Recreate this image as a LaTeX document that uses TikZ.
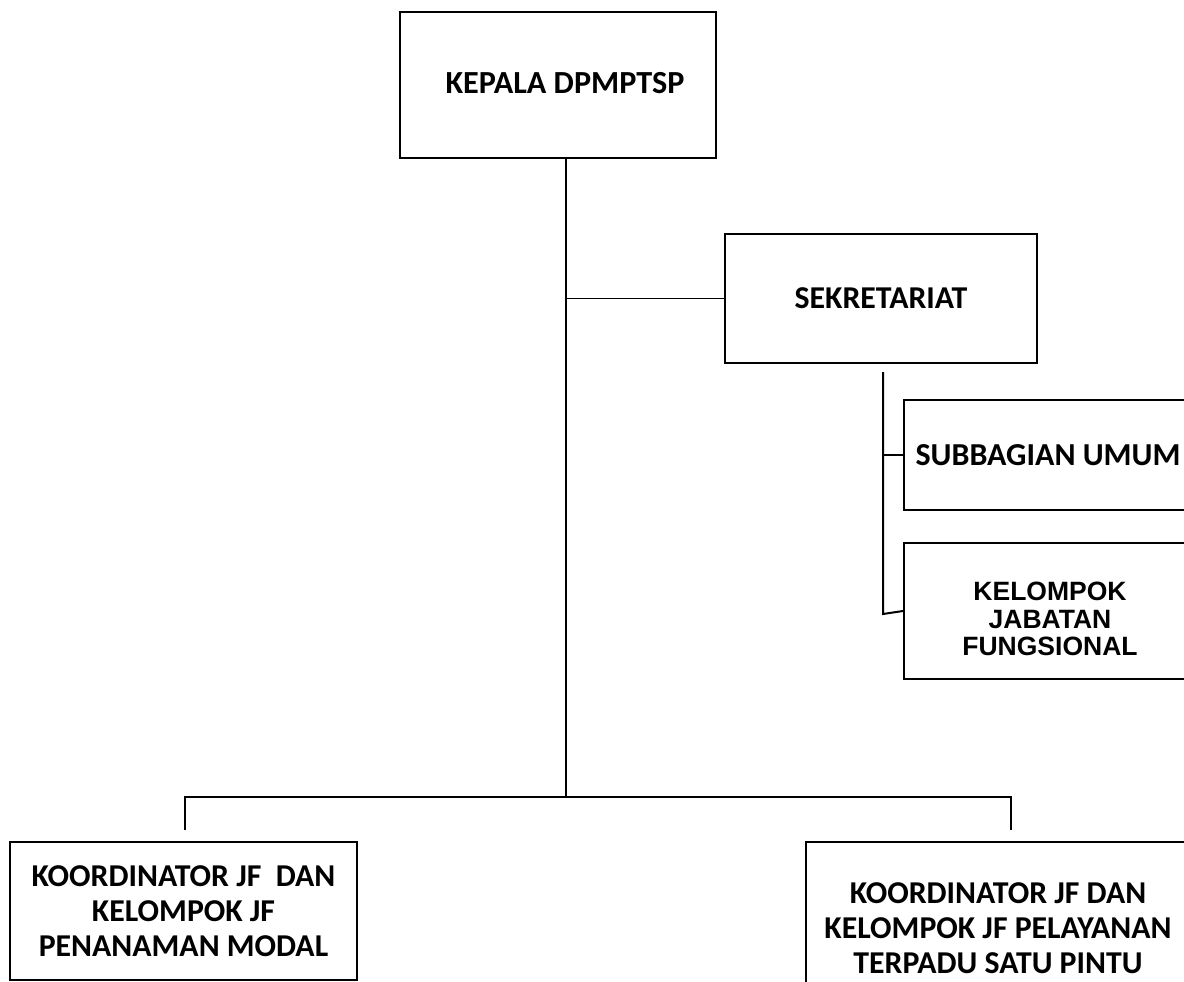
\documentclass[tikz,border=0pt]{standalone}
\usepackage{fontspec}
\setmainfont{Carlito}
\newfontfamily\arialfont{Liberation Sans}
\usetikzlibrary{positioning,calc}

\begin{document}
\begin{tikzpicture}[
    x=1pt, y=-1pt,
    box/.style={rectangle, draw, line width=2pt, inner sep=0pt, align=center, font=\bfseries\fontsize{31.8}{35}\selectfont},
    boxtext/.style={align=center, inner sep=0pt},
    line/.style={line width=2pt}
]
\useasboundingbox[fill=white] (0,0) rectangle (1184,982);

\node[box, minimum width=316pt, minimum height=146pt,
      label={[boxtext, xshift=7pt, yshift=2pt, font=\bfseries\fontsize{32.2}{36}\selectfont]center:KEPALA DPMPTSP}] (kepala) at (558,85) {};
\node[box, minimum width=312pt, minimum height=129pt, font=\bfseries\fontsize{31.8}{34}\selectfont] (sekretariat) at (881,298.5) {SEKRETARIAT};
\node[box, minimum width=288pt, minimum height=110pt, font=\bfseries\fontsize{32}{35}\selectfont] (subbagian) at (1048,455) {SUBBAGIAN UMUM};
\node[box, minimum width=292pt, minimum height=136pt,
      label={[boxtext, yshift=-8pt, font=\arialfont\bfseries\fontsize{26.5}{27.5}\selectfont]center:KELOMPOK\\JABATAN\\FUNGSIONAL}] (kelompok) at (1050,611) {};
\node[box, minimum width=347pt, minimum height=138pt] (kiri) at (183.5,911) {KOORDINATOR JF~ DAN\\KELOMPOK JF\\PENANAMAN MODAL};
\node[box, minimum width=384pt, minimum height=172pt] (kanan) at (998,928) {KOORDINATOR JF DAN\\KELOMPOK JF PELAYANAN\\TERPADU SATU PINTU};

% connectors
\coordinate (hub) at (566,797);
\coordinate (subtop) at (883,372);
\coordinate (subbot) at (883,614);
\coordinate (kiridrop) at (185,830);
\coordinate (kanandrop) at (1011,830);

\draw[line] (kepala.south -| hub) -- (hub);
\draw[line, line width=1.5pt] (sekretariat.west) -- (sekretariat.west -| hub);
\draw[line] (subtop) -- (subbot) -- (kelompok.west);
\draw[line, line width=1.5pt] (subbagian.west) -- (subbagian.west -| subtop);
\draw[line] (kiridrop) |- (hub) -| (kanandrop);

\end{tikzpicture}
\end{document}
